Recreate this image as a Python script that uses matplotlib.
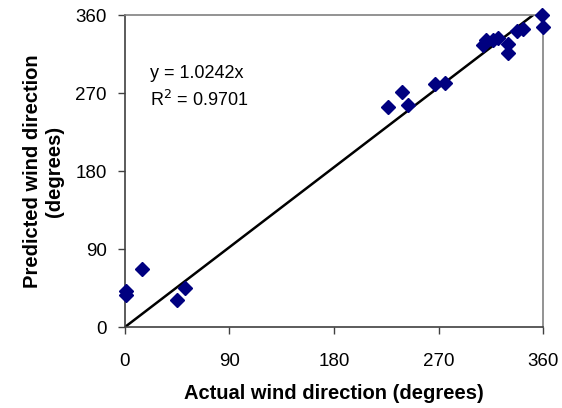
import matplotlib.pyplot as plt
import numpy as np

plt.rcParams['font.family'] = ['Liberation Sans', 'DejaVu Sans']

# actual vs predicted wind direction (degrees)
actual = [0.9, 0.9, 14.4, 44.5, 51.7, 226.8, 238.6, 244.0, 267.3, 275.6,
          308.6, 310.7, 317.0, 321.5, 330.0, 330.0, 337.4, 343.0, 358.9, 360.3]
predicted = [41.6, 36.6, 67.0, 30.8, 45.4, 254.0, 270.7, 256.4, 280.0, 281.0,
             325.3, 331.0, 331.0, 333.0, 327.0, 315.7, 341.4, 343.7, 360.0, 346.4]
slope = 1.0242
r2 = 0.9701
ticks = [0, 90, 180, 270, 360]

fig = plt.figure(figsize=(5.62, 4.08), dpi=100)
ax = fig.add_axes([0.2224, 0.1985, 0.7438, 0.7647])

xs = np.array([0, 360])
ax.plot(xs, slope * xs, color='black', lw=1.8, zorder=2)
ax.plot(actual, predicted, 'D', color='#000080', ms=7.5, mec='#000080', zorder=3, clip_on=False)

ax.set_xlim(0, 360)
ax.set_ylim(0, 360)
ax.set_xticks(ticks)
ax.set_yticks(ticks)
ax.tick_params(direction='out', length=5, width=1, color='#404040', labelsize=13.5)
ax.tick_params(axis='x', pad=14)
ax.tick_params(axis='y', pad=8)
for side in ['left', 'bottom']:
    ax.spines[side].set_color('#404040')
for side in ['top', 'right']:
    ax.spines[side].set_color('#808080')
for s in ax.spines.values():
    s.set_linewidth(1.2)

ax.text(0.06, 0.811, 'y = %.4fx' % slope, transform=ax.transAxes, fontsize=13, va='center')
ax.text(0.06, 0.727, 'R$^2$ = %.4f' % r2, transform=ax.transAxes, fontsize=13, va='center')

ax.set_xlabel('Actual wind direction (degrees)', fontsize=14.5, fontweight='bold', labelpad=10)
ax.set_ylabel('Predicted wind direction\n(degrees)', fontsize=14.5, fontweight='bold', labelpad=8)

fig.savefig('out.png', dpi=100)
